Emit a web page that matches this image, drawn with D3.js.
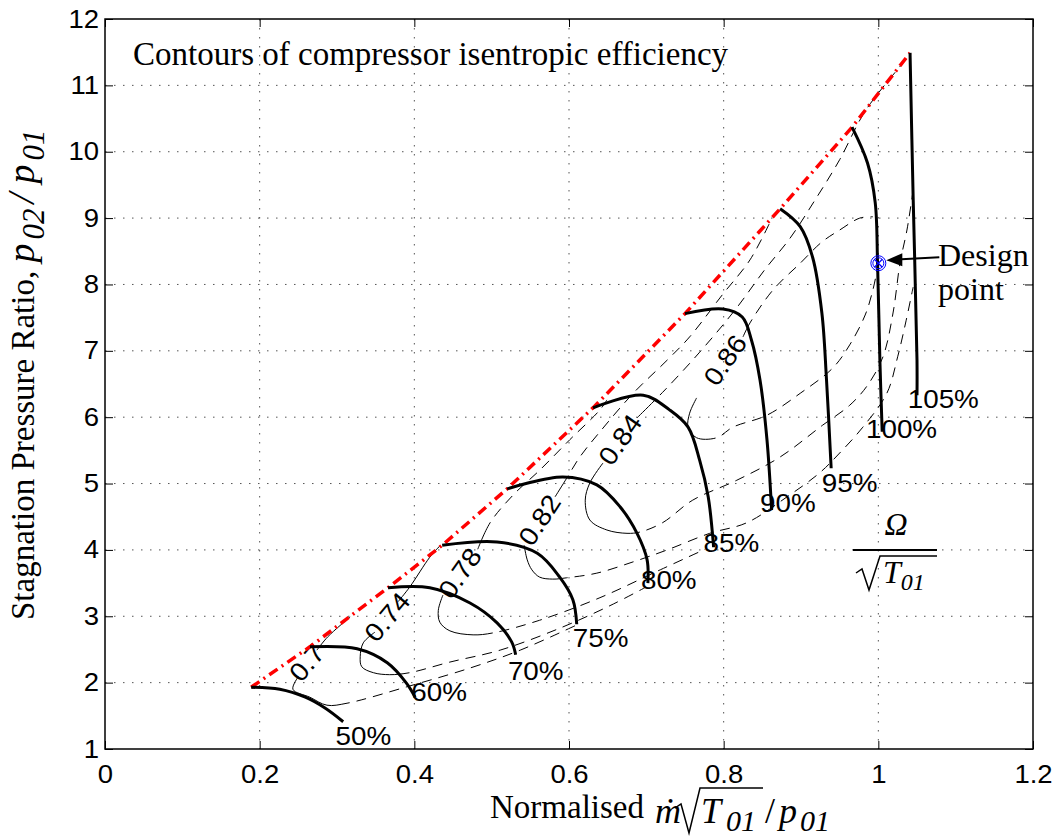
<!DOCTYPE html>
<html>
<head>
<meta charset="utf-8">
<script src="https://cdn.jsdelivr.net/npm/d3@7/dist/d3.min.js"></script>
<style>
  body { margin: 0; background: #fff; }
</style>
</head>
<body>
<div id="chart-container"></div>
<script>
const margin = { top: 19, right: 26, bottom: 88, left: 105 };
const width = 1059 - margin.left - margin.right;
const height = 837 - margin.top - margin.bottom;

// axis ticks
const xTicks = [0, 0.2, 0.4, 0.6, 0.8, 1, 1.2];
const yTicks = [1, 2, 3, 4, 5, 6, 7, 8, 9, 10, 11, 12];

// speed lines [mass flow, pressure ratio]
const speed50 = [[0.189, 1.93], [0.226, 1.90], [0.259, 1.78], [0.284, 1.62], [0.308, 1.41]];
const speed60 = [[0.265, 2.54], [0.326, 2.51], [0.365, 2.30], [0.390, 1.99], [0.401, 1.78]];
const speed70 = [[0.366, 3.43], [0.420, 3.43], [0.472, 3.20], [0.507, 2.90], [0.526, 2.61], [0.531, 2.42]];
const speed75 = [[0.436, 4.07], [0.507, 4.12], [0.559, 3.95], [0.588, 3.59], [0.605, 3.25], [0.610, 2.88]];
const speed80 = [[0.520, 4.92], [0.592, 5.10], [0.636, 4.98], [0.666, 4.65], [0.688, 4.25], [0.701, 3.85], [0.702, 3.50]];
const speed85 = [[0.631, 6.14], [0.696, 6.33], [0.730, 6.11], [0.754, 5.85], [0.769, 5.35], [0.780, 4.80], [0.787, 4.04]];
const speed90 = [[0.750, 7.56], [0.799, 7.63], [0.824, 7.51], [0.836, 7.16], [0.847, 6.56], [0.856, 5.66], [0.862, 4.60]];
const speed95 = [[0.873, 9.14], [0.899, 8.87], [0.915, 8.41], [0.927, 7.57], [0.933, 6.56], [0.939, 5.23]];
const speed100 = [[0.966, 10.37], [0.986, 9.83], [0.996, 9.23], [0.999, 8.32], [1.002, 6.86], [1.005, 5.78]];
const speed105 = [[1.041, 11.49], [1.045, 9.32], [1.050, 6.86], [1.050, 6.33]];
const speedNames = ["50%", "60%", "70%", "75%", "80%", "85%", "90%", "95%", "100%", "105%"];
const speedLabelPos = [[0.334, 1.20], [0.432, 1.86], [0.557, 2.18], [0.641, 2.68], [0.729, 3.55],
                       [0.810, 4.10], [0.883, 4.70], [0.963, 5.01], [1.030, 5.82], [1.084, 6.28]];

// surge line
const surgeLine = [[0.189, 1.93], [0.265, 2.54], [0.366, 3.43], [0.436, 4.07], [0.520, 4.92],
                   [0.631, 6.14], [0.750, 7.56], [0.873, 9.14], [0.966, 10.37], [1.041, 11.49]];

// efficiency contours: branch above the label and branch below it
const eff70Up = [[0.274, 2.49], [0.288, 2.69], [0.317, 2.99]];
const eff70Low = [[0.250, 2.09], [0.243, 1.90], [0.265, 1.78], [0.287, 1.66], [0.313, 1.69],
                  [0.394, 1.95], [0.472, 2.22], [0.537, 2.49], [0.612, 2.88]];
const eff74Up = [[0.379, 3.22], [0.394, 3.44], [0.420, 3.89], [0.433, 4.06]];
const eff74Low = [[0.349, 2.76], [0.334, 2.60], [0.330, 2.39], [0.332, 2.24], [0.347, 2.15], [0.368, 2.12],
                  [0.394, 2.15], [0.446, 2.31], [0.511, 2.49], [0.588, 2.82], [0.653, 3.16], [0.698, 3.43]];
const eff78Up = [[0.482, 4.01], [0.498, 4.41], [0.528, 4.83], [0.562, 5.20], [0.601, 5.66], [0.640, 6.11], [0.649, 6.26]];
const eff78Low = [[0.437, 3.32], [0.431, 3.09], [0.433, 2.91], [0.446, 2.78], [0.476, 2.72], [0.502, 2.75],
                  [0.562, 2.94], [0.640, 3.28], [0.718, 3.70], [0.776, 4.01]];
const eff82Up = [[0.582, 4.80], [0.597, 5.08], [0.614, 5.40], [0.640, 5.78], [0.683, 6.36], [0.727, 6.86],
                 [0.756, 7.21], [0.798, 7.84], [0.834, 8.37], [0.860, 8.94]];
const eff82Low = [[0.542, 4.07], [0.546, 3.85], [0.552, 3.70], [0.562, 3.59], [0.579, 3.56], [0.597, 3.58],
                  [0.636, 3.65], [0.683, 3.82], [0.727, 4.00], [0.782, 4.25], [0.830, 4.41], [0.882, 4.80],
                  [0.924, 5.16], [0.950, 5.46], [0.980, 5.85], [1.011, 6.36], [1.025, 6.91], [1.036, 7.46], [1.045, 7.96]];
const eff84Up = [[0.688, 5.99], [0.724, 6.41], [0.769, 6.98], [0.815, 7.62], [0.853, 8.22], [0.886, 8.70],
                 [0.918, 9.27], [0.950, 9.88], [0.984, 10.63], [1.041, 11.46]];
const eff84Low = [[0.644, 5.31], [0.627, 5.01], [0.621, 4.75], [0.627, 4.45], [0.649, 4.30], [0.675, 4.25],
                  [0.692, 4.27], [0.721, 4.41], [0.760, 4.75], [0.817, 5.05], [0.873, 5.40], [0.928, 5.88],
                  [0.963, 6.18], [0.986, 6.48], [1.006, 6.91], [1.019, 7.57], [1.028, 8.32], [1.037, 8.82], [1.045, 9.42]];
const eff86Up = [[0.825, 7.21], [0.834, 7.42], [0.864, 7.92], [0.899, 8.32], [0.927, 8.64], [0.950, 8.82],
                 [0.976, 9.00], [0.993, 9.02]];
const eff86Low = [[0.765, 6.29], [0.756, 6.06], [0.754, 5.85], [0.765, 5.69], [0.791, 5.69], [0.812, 5.85],
                  [0.856, 6.03], [0.899, 6.36], [0.941, 6.74], [0.963, 7.09], [0.983, 7.54], [0.993, 7.92], [0.999, 8.25]];
const effLevels = ["0.7", "0.74", "0.78", "0.82", "0.84", "0.86"];
const effLabelPos = [[0.261, 2.30], [0.365, 2.99], [0.459, 3.65], [0.562, 4.45], [0.666, 5.66], [0.802, 6.86]];

const designPoint = [1.0, 8.32];

const speedLines = [speed50, speed60, speed70, speed75, speed80, speed85, speed90, speed95, speed100, speed105];
const effUpper = [eff70Up, eff74Up, eff78Up, eff82Up, eff84Up, eff86Up];
const effLower = [eff70Low, eff74Low, eff78Low, eff82Low, eff84Low, eff86Low];

// drawing styles
const labelAngle = [-50, -50, -55, -57, -55, -55];
const upperSolid = [999, 999, 30, 25, 25, 20];
const lowerSolid = [75, 90, 85, 65, 116, 64];
const SANS = '"Liberation Sans", Arial, sans-serif';
const SERIF = '"Liberation Serif", "DejaVu Serif", serif';

const svg = d3
  .select("#chart-container")
  .append("svg")
  .attr("width", 1059)
  .attr("height", 837);

const chart = svg.append("g").attr("transform", `translate(${margin.left},${margin.top})`);

const x = d3.scaleLinear().domain([0, 1.2]).range([0, width]);
const y = d3.scaleLinear().domain([1, 12]).range([height, 0]);

// helper: widen helvetica-ish text a bit like the original
const stretch = (sel, k) =>
  sel.each(function () {
    const w = this.getComputedTextLength();
    d3.select(this).attr("textLength", w * k).attr("lengthAdjust", "spacingAndGlyphs");
  });

// grid
chart
  .append("g")
  .selectAll("line")
  .data(xTicks.slice(1, -1))
  .join("line")
  .attr("x1", (d) => x(d))
  .attr("x2", (d) => x(d))
  .attr("y1", 0)
  .attr("y2", height)
  .attr("stroke", "#555")
  .attr("stroke-dasharray", "1.5,7.5");
chart
  .append("g")
  .selectAll("line")
  .data(yTicks.slice(1, -1))
  .join("line")
  .attr("y1", (d) => y(d))
  .attr("y2", (d) => y(d))
  .attr("x1", 0)
  .attr("x2", width)
  .attr("stroke", "#555")
  .attr("stroke-dasharray", "1.5,7.5");

// axes
const xAxis = chart
  .append("g")
  .attr("transform", `translate(0,${height})`)
  .call(d3.axisBottom(x).tickValues(xTicks).tickSize(-8).tickPadding(16).tickFormat(d3.format("")));
const yAxis = chart
  .append("g")
  .call(d3.axisLeft(y).tickValues(yTicks).tickSize(-8).tickPadding(6).tickFormat(d3.format("")));
chart.append("g").call(d3.axisTop(x).tickValues(xTicks).tickSize(-8).tickFormat(""));
chart
  .append("g")
  .attr("transform", `translate(${width},0)`)
  .call(d3.axisRight(y).tickValues(yTicks).tickSize(-8).tickFormat(""));
chart.selectAll(".domain").remove();
chart.selectAll(".tick line").attr("stroke", "#000").attr("stroke-width", 1);
[xAxis, yAxis].forEach((a) =>
  a.selectAll("text").attr("font-family", SANS).attr("font-size", 25).attr("fill", "#000")
);
stretch(xAxis.selectAll("text"), 1.1);
stretch(yAxis.selectAll("text"), 1.1);

chart
  .append("rect")
  .attr("width", width)
  .attr("height", height)
  .attr("fill", "none")
  .attr("stroke", "#000")
  .attr("stroke-width", 1.5);

const line = d3
  .line()
  .x((d) => x(d[0]))
  .y((d) => y(d[1]))
  .curve(d3.curveCatmullRom.alpha(0.5));

// efficiency contours, solid near the label and dashed further out
const dashed = (path, solid) => {
  const L = path.node().getTotalLength();
  if (solid >= L) return;
  const arr = [solid];
  for (let t = solid; t < L + 20; t += 17) arr.push(7, 10);
  path.attr("stroke-dasharray", arr.join(","));
};
effLevels.forEach((lev, i) => {
  const up = chart
    .append("path")
    .attr("d", line(effUpper[i]))
    .attr("fill", "none")
    .attr("stroke", "#000")
    .attr("stroke-width", 1);
  dashed(up, upperSolid[i]);
  const low = chart
    .append("path")
    .attr("d", line(effLower[i]))
    .attr("fill", "none")
    .attr("stroke", "#000")
    .attr("stroke-width", 1);
  dashed(low, lowerSolid[i]);
});

const effText = chart
  .append("g")
  .selectAll("text")
  .data(effLevels)
  .join("text")
  .attr("transform", (d, i) =>
    `translate(${x(effLabelPos[i][0])},${y(effLabelPos[i][1])}) rotate(${labelAngle[i]})`
  )
  .attr("text-anchor", "middle")
  .attr("dominant-baseline", "central")
  .attr("font-family", SANS)
  .attr("font-size", 26)
  .text((d) => d);
stretch(effText, 1.08);

// surge line
chart
  .append("path")
  .attr("d", d3.line().x((d) => x(d[0])).y((d) => y(d[1]))(surgeLine))
  .attr("fill", "none")
  .attr("stroke", "#ff0000")
  .attr("stroke-width", 3.5)
  .attr("stroke-dasharray", "10,5,2,5");

// speed lines
chart
  .append("g")
  .selectAll("path")
  .data(speedLines)
  .join("path")
  .attr("d", line)
  .attr("fill", "none")
  .attr("stroke", "#000")
  .attr("stroke-width", 3);

const speedText = chart
  .append("g")
  .selectAll("text")
  .data(speedNames)
  .join("text")
  .attr("x", (d, i) => x(speedLabelPos[i][0]))
  .attr("y", (d, i) => y(speedLabelPos[i][1]))
  .attr("text-anchor", "middle")
  .attr("dominant-baseline", "central")
  .attr("font-family", SANS)
  .attr("font-size", 26)
  .text((d) => d);
stretch(speedText, 1.07);

// design point marker and arrow
const dpx = x(designPoint[0]);
const dpy = y(designPoint[1]);
const dp = chart.append("g").attr("transform", `translate(${dpx},${dpy})`).attr("stroke", "#0000ff").attr("fill", "none");
dp.append("circle").attr("r", 7.5).attr("stroke-width", 1);
dp.append("circle").attr("r", 5.5).attr("stroke-width", 1);
dp.append("path").attr("d", "M-4,-4L4,4M-4,4L4,-4").attr("stroke-width", 1.2);

chart
  .append("line")
  .attr("x1", dpx + 23)
  .attr("y1", dpy - 4)
  .attr("x2", dpx + 61)
  .attr("y2", dpy - 6)
  .attr("stroke", "#000")
  .attr("stroke-width", 2);
chart
  .append("path")
  .attr("d", `M${dpx + 8},${dpy - 3}L${dpx + 24},${dpy - 10}L${dpx + 24},${dpy + 3}Z`)
  .attr("fill", "#000");

// text annotations (page coordinates)
svg
  .append("text")
  .attr("x", 133)
  .attr("y", 65)
  .attr("font-family", SERIF)
  .attr("font-size", 33)
  .text("Contours of compressor isentropic efficiency");

svg.append("text").attr("x", 938).attr("y", 266).attr("font-family", SERIF).attr("font-size", 32).text("Design");
svg.append("text").attr("x", 938).attr("y", 300).attr("font-family", SERIF).attr("font-size", 32).text("point");

// Omega / sqrt(T01)
svg
  .append("text")
  .attr("x", 896)
  .attr("y", 535)
  .attr("text-anchor", "middle")
  .attr("font-family", SERIF)
  .attr("font-style", "italic")
  .attr("font-size", 32)
  .text("\u03A9");
svg.append("line").attr("x1", 853).attr("x2", 937).attr("y1", 550).attr("y2", 550).attr("stroke", "#000").attr("stroke-width", 2);
svg
  .append("path")
  .attr("d", "M856,573L862,569L869,590L880,556L937,556")
  .attr("fill", "none")
  .attr("stroke", "#000")
  .attr("stroke-width", 1.5);
const om = svg.append("text").attr("x", 883).attr("y", 583).attr("font-family", SERIF).attr("font-style", "italic").attr("font-size", 32);
om.append("tspan").text("T");
om.append("tspan").attr("font-size", 24).attr("dy", 7).text("01");

// x label
svg.append("text").attr("x", 490).attr("y", 818).attr("font-family", SERIF).attr("font-size", 33).text("Normalised");
const xl = svg.append("g").attr("font-family", SERIF).attr("font-style", "italic").attr("font-size", 36);
xl.append("text").attr("x", 655).attr("y", 823).text("\u1E41");
xl.append("text").attr("x", 701).attr("y", 823).text("T");
xl.append("text").attr("x", 726).attr("y", 831).attr("font-size", 30).text("01");
xl.append("text").attr("x", 765).attr("y", 823).attr("font-style", "normal").text("/");
xl.append("text").attr("x", 779).attr("y", 823).text("p");
xl.append("text").attr("x", 800).attr("y", 831).attr("font-size", 30).text("01");
svg
  .append("path")
  .attr("d", "M675,808L681,804L689,833L700,788L763,788")
  .attr("fill", "none")
  .attr("stroke", "#000")
  .attr("stroke-width", 1.5);

// y label
const yl = svg
  .append("text")
  .attr("transform", "translate(34,620) rotate(-90)")
  .attr("font-family", SERIF)
  .attr("font-size", 33);
yl.append("tspan").text("Stagnation Pressure Ratio, ");
yl.append("tspan").attr("font-style", "italic").attr("font-size", 38).text("p");
yl.append("tspan").attr("font-style", "italic").attr("font-size", 31).attr("dx", 4).attr("dy", 10).text("02");
yl.append("tspan").attr("dy", -10).attr("dx", 5).attr("font-style", "italic").attr("font-size", 38).text("/ p");
yl.append("tspan").attr("font-style", "italic").attr("font-size", 31).attr("dx", 4).attr("dy", 10).text("01");
</script>
</body>
</html>
